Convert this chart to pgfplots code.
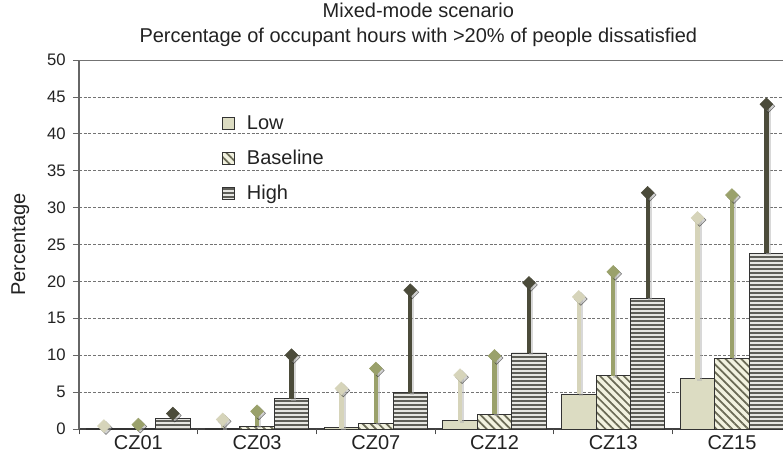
\documentclass[border=0pt]{standalone}
\usepackage{pgfplots}
\pgfplotsset{compat=1.18}
\usepackage{pgfplotstable}
\usepackage{fontspec}
\setmainfont{Liberation Sans}
\usetikzlibrary{patterns.meta}
\definecolor{lowfill}{HTML}{DCDCC2}
\definecolor{lowline}{HTML}{D6D4BA}
\definecolor{basecol}{HTML}{9AA16B}
\definecolor{highcol}{HTML}{4B4B3A}
\definecolor{basefill}{HTML}{F2F2E0}
\definecolor{basestripe}{HTML}{6A6A55}
\definecolor{highfill}{HTML}{E6E6E2}
\definecolor{highstripe}{HTML}{5E5E58}
\definecolor{txt}{HTML}{222222}

\pgfplotstableread{
x b d
1 0.1 0.4
2 0.1 1.3
3 0.2 5.5
4 1.1 7.3
5 4.7 17.9
6 6.8 28.6
}\lowdata
\pgfplotstableread{
x b d
1 0.05 0.6
2 0.4 2.4
3 0.8 8.2
4 2.0 9.9
5 7.2 21.3
6 9.6 31.7
}\basedata
\pgfplotstableread{
x b d
1 1.4 2.1
2 4.1 10.0
3 4.9 18.8
4 10.3 19.8
5 17.7 32.0
6 23.8 44.0
}\highdata

\begin{document}
\begin{tikzpicture}
\begin{axis}[
  name=a,
  scale only axis,
  width=528pt, height=276.75pt,
  xmin=0.5, xmax=6.43,
  ymin=0, ymax=50,
  ytick={0,5,...,50},
  xtick={1,2,3,4,5,6},
  xticklabels={CZ01,CZ03,CZ07,CZ12,CZ13,CZ15},
  x tick style={draw=none},
  extra x ticks={0.5,1.5,2.5,3.5,4.5,5.5},
  extra x tick labels={},
  extra x tick style={xtick style={draw=black!70, line width=0.6pt}, major tick length=4pt, tick align=outside, grid=none},
  axis x line*=bottom,
  axis y line*=left,
  x axis line style={draw=black!75, line width=0.8pt, -},
  y axis line style={draw=black!60, line width=0.8pt, -},
  y tick style={draw=black!60, line width=0.6pt},
  major tick length=4.5pt,
  tick align=outside,
  ymajorgrids,
  grid style={black!55, dash pattern=on 2.2pt off 1.3pt, line width=0.6pt},
  /pgf/number format/assume math mode=true,
  yticklabel style={font=\fontsize{12.5}{14}\selectfont, text=txt, xshift=-2pt},
  xticklabel style={font=\fontsize{15}{17}\selectfont, text=txt, yshift=3pt},
  ylabel={Percentage},
  ylabel style={font=\fontsize{15}{17}\selectfont, text=txt, at={(axis description cs:0,0.5)}, anchor=center, yshift=44pt},
  title={Mixed-mode scenario\\Percentage of occupant hours with >20\% of people dissatisfied},
  title style={font=\fontsize{15}{18.75}\selectfont, text=txt, align=center, at={(axis description cs:0.482,1)}, anchor=south, inner sep=0pt, yshift=4pt},
  legend style={at={(axis description cs:0.203,0.857)}, anchor=north west, draw=none, fill=none, font=\fontsize{15}{17}\selectfont, text=txt, row sep=10pt, inner sep=0pt},
  legend cell align=left,
  legend image code/.code={\draw[#1] (-6pt,-4.5pt) rectangle (3pt,4.5pt); \node[inner sep=0pt, draw=none, fill=none] at (9pt,0pt) {};},
]
% bars
\addplot[ybar, bar width=0.29, bar shift=-0.29, fill=lowfill, draw=black!80, line width=0.6pt]
  table[x=x, y=b] {\lowdata};
\addlegendentry{Low}
\addplot[ybar, bar width=0.29, bar shift=0, fill=basefill, draw=black!80, line width=0.6pt,
  postaction={pattern={Lines[angle=-45, distance=4.2pt, line width=1.3pt]}, pattern color=basestripe}]
  table[x=x, y=b] {\basedata};
\addlegendentry{Baseline}
\addplot[ybar, bar width=0.29, bar shift=0.29, fill=highfill, draw=black!80, line width=0.6pt,
  postaction={pattern={Lines[angle=0, distance=3pt, line width=0.85pt]}, pattern color=highstripe}]
  table[x=x, y=b] {\highdata};
\addlegendentry{High}
% shadows of the lollipops
\addplot[forget plot, only marks, xshift=1.5pt, yshift=-1.5pt, mark=square*, mark size=3.4pt,
  mark options={rotate=45, fill=black!35, draw=none, opacity=0.5},
  error bars/.cd, y dir=minus, y explicit, error mark=none,
  error bar style={line width=3.2pt, color=black!30, opacity=0.5}]
  table[x expr=\thisrow{x}-0.29, y=d, y error expr=\thisrow{d}-\thisrow{b}] {\lowdata};
\addplot[forget plot, only marks, xshift=1.5pt, yshift=-1.5pt, mark=square*, mark size=3.4pt,
  mark options={rotate=45, fill=black!35, draw=none, opacity=0.5},
  error bars/.cd, y dir=minus, y explicit, error mark=none,
  error bar style={line width=3.2pt, color=black!30, opacity=0.5}]
  table[x=x, y=d, y error expr=\thisrow{d}-\thisrow{b}] {\basedata};
\addplot[forget plot, only marks, xshift=1.5pt, yshift=-1.5pt, mark=square*, mark size=3.4pt,
  mark options={rotate=45, fill=black!35, draw=none, opacity=0.5},
  error bars/.cd, y dir=minus, y explicit, error mark=none,
  error bar style={line width=3.2pt, color=black!30, opacity=0.5}]
  table[x expr=\thisrow{x}+0.29, y=d, y error expr=\thisrow{d}-\thisrow{b}] {\highdata};
% lollipops
\addplot[forget plot, only marks, mark=square*, mark size=3.4pt,
  mark options={rotate=45, fill=lowline, draw=lowline},
  error bars/.cd, y dir=minus, y explicit, error mark=none,
  error bar style={line width=3.2pt, color=lowline}]
  table[x expr=\thisrow{x}-0.29, y=d, y error expr=\thisrow{d}-\thisrow{b}] {\lowdata};
\addplot[forget plot, only marks, mark=square*, mark size=3.4pt,
  mark options={rotate=45, fill=basecol, draw=basecol},
  error bars/.cd, y dir=minus, y explicit, error mark=none,
  error bar style={line width=3.2pt, color=basecol}]
  table[x=x, y=d, y error expr=\thisrow{d}-\thisrow{b}] {\basedata};
\addplot[forget plot, only marks, mark=square*, mark size=3.4pt,
  mark options={rotate=45, fill=highcol, draw=highcol},
  error bars/.cd, y dir=minus, y explicit, error mark=none,
  error bar style={line width=3.2pt, color=highcol}]
  table[x expr=\thisrow{x}+0.29, y=d, y error expr=\thisrow{d}-\thisrow{b}] {\highdata};
\draw[black!55, line width=0.8pt] (rel axis cs:0,1) -- (rel axis cs:1,1);
\end{axis}
\pgfresetboundingbox
\path ([xshift=-59.25pt, yshift=-27pt]a.south west) rectangle ([yshift=45pt]a.north east);
\end{tikzpicture}
\end{document}
